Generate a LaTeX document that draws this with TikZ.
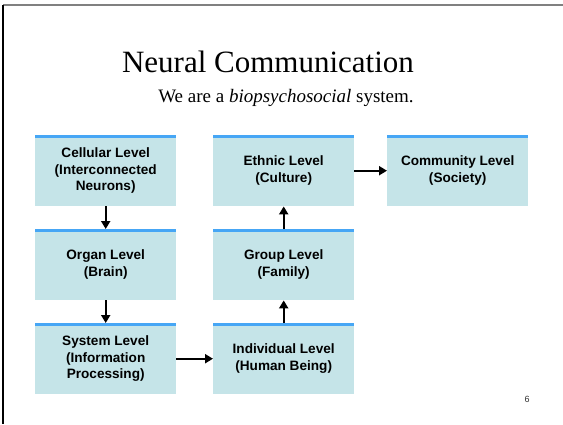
\documentclass[tikz,border=0pt]{standalone}
\usepackage{fontspec}
\setmainfont{Liberation Serif}
\newfontfamily\boxfont{Liberation Sans}
\usetikzlibrary{arrows.meta}
\definecolor{boxfill}{RGB}{197,228,232}
\definecolor{topblue}{RGB}{70,166,245}
\begin{document}
\begin{tikzpicture}[x=1pt,y=-1pt,
  lvl/.style={rectangle, fill=boxfill, minimum width=141pt, minimum height=71pt,
    inner sep=0pt, align=center, anchor=north west,
    font=\boxfont\bfseries\fontsize{13.6}{16.5}\selectfont},
  conn/.style={line width=2pt, -{Triangle[length=8pt,width=9pt]}}]
\useasboundingbox (0,0) rectangle (563,424);
% slide frame
\draw[line width=1.5pt, gray] (3,5) -- (563,5);
\draw[line width=1.5pt, black] (3,5) -- (3,424);
% titles
\node (title) at (268,62) {\fontsize{31}{36}\selectfont Neural Communication};
\node (sub) at (286,98) {\fontsize{19}{22}\selectfont We are a \textit{biopsychosocial} system.};
% boxes
\node[lvl] (cell) at (35,135) {Cellular Level\\(Interconnected\\Neurons)};
\node[lvl] (organ) at (35,229) {Organ Level\\(Brain)};
\node[lvl] (system) at (35,323) {System Level\\(Information\\Processing)};
\node[lvl] (indiv) at (213,323) {Individual Level\\(Human Being)};
\node[lvl] (group) at (213,229) {Group Level\\(Family)};
\node[lvl] (ethnic) at (213,135) {Ethnic Level\\(Culture)};
\node[lvl] (comm) at (387,135) {Community Level\\(Society)};
% blue top lines
\foreach \n in {cell,organ,system,indiv,group,ethnic,comm}
  \draw[topblue, line width=3pt] ([yshift=-1.5pt]\n.north west) -- ([yshift=-1.5pt]\n.north east);
% connectors
\draw[conn] (cell.south) -- (organ.north);
\draw[conn] (organ.south) -- (system.north);
\draw[conn] (system.east) -- (indiv.west);
\draw[conn] (indiv.north) -- (group.south);
\draw[conn] (group.north) -- (ethnic.south);
\draw[conn] (ethnic.east) -- (comm.west);
% page number
\node[font=\boxfont\fontsize{9}{10}\selectfont, text=black!80] (pg) at (527,399) {6};
\end{tikzpicture}
\end{document}
